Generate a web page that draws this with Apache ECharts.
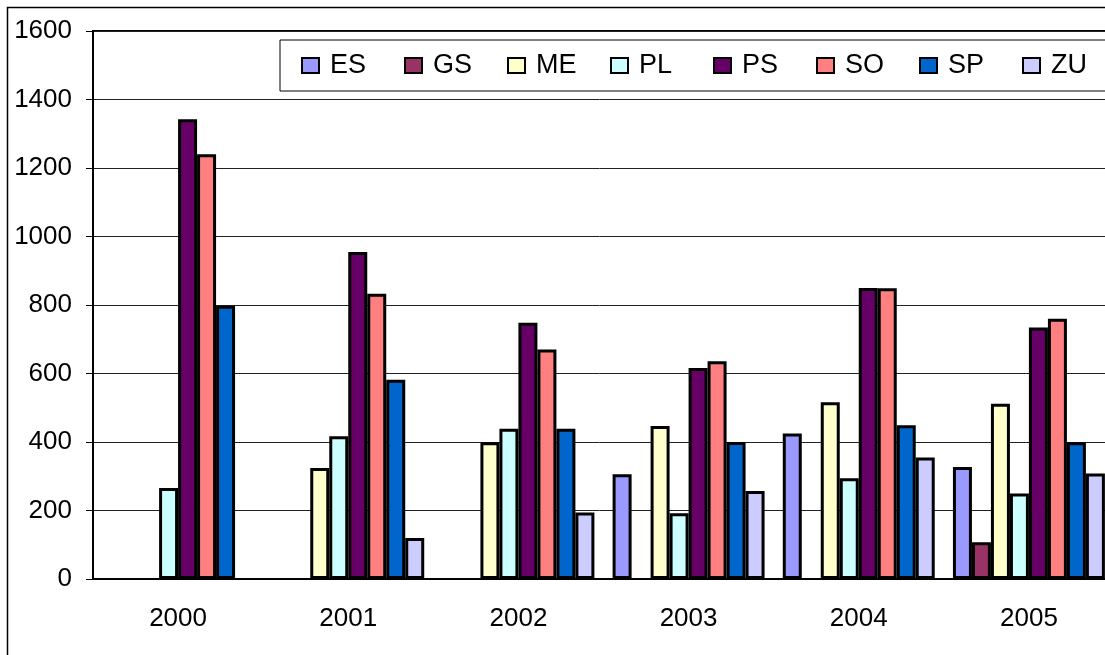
<!DOCTYPE html>
<html>
<head>
<meta charset="utf-8">
<script src="https://cdn.jsdelivr.net/npm/echarts@6/dist/echarts.min.js"></script>
<style>
  html, body { margin: 0; padding: 0; background: #fff; }
  #chart { width: 1105px; height: 655px; }
</style>
</head>
<body>
<div id="chart"></div>
<script>
// years on the x axis
const years = ['2000', '2001', '2002', '2003', '2004', '2005']

// one array per series, null = no bar that year
const ES = [null, null, null, 306, 425, 327]
const GS = [null, null, null, null, null, 107]
const ME = [null, 324, 399, 447, 516, 512]
const PL = [266, 417, 439, 192, 294, 250]
const PS = [1342, 955, 748, 616, 850, 734]
const SO = [1240, 833, 670, 636, 849, 760]
const SP = [798, 582, 439, 400, 449, 399]
const ZU = [null, 120, 194, 257, 355, 308]

const seriesNames = ['ES', 'GS', 'ME', 'PL', 'PS', 'SO', 'SP', 'ZU']
const seriesData = [ES, GS, ME, PL, PS, SO, SP, ZU]
const colors = ['#9999FF', '#993366', '#FFFFCC', '#CCFFFF', '#660066', '#FF8080', '#0066CC', '#CCCCFF']

const font = 'Liberation Sans, Arial, sans-serif'

const chart = echarts.init(document.getElementById('chart'))

chart.setOption({
  animation: false,
  color: colors,
  graphic: [{
    // outer chart frame
    type: 'rect',
    shape: { x: 7.5, y: 7.5, width: 1200, height: 1000 },
    style: { fill: null, stroke: '#000', lineWidth: 1.5 },
    silent: true
  }],
  legend: {
    left: 280,
    top: 40,
    width: 1000,
    padding: [12, 20, 12, 21],
    borderColor: '#000',
    borderWidth: 1,
    backgroundColor: '#fff',
    itemWidth: 17,
    itemHeight: 15,
    itemGap: 27,
    icon: 'rect',
    itemStyle: { borderColor: '#000', borderWidth: 2 },
    textStyle: {
      fontFamily: font,
      fontSize: 27,
      color: '#000',
      width: 47,
      lineHeight: 27,
      padding: [0, 0, 0, 6]
    },
    data: seriesNames
  },
  grid: {
    left: 93,
    top: 31,
    right: -9,
    bottom: 76,
    outerBoundsMode: 'none',
    containLabel: false,
    show: true,
    backgroundColor: '#fff',
    borderColor: '#000',
    borderWidth: 2
  },
  xAxis: {
    type: 'category',
    data: years,
    axisLine: { lineStyle: { color: '#000', width: 2 } },
    axisTick: { length: 7, lineStyle: { color: '#000', width: 1 } },
    axisLabel: { margin: 27, fontFamily: font, fontSize: 26, color: '#000' }
  },
  yAxis: {
    type: 'value',
    min: 0,
    max: 1600,
    interval: 200,
    axisLine: { show: true, lineStyle: { color: '#000', width: 2 } },
    axisTick: { show: true, length: 7, lineStyle: { color: '#000', width: 1 } },
    axisLabel: {
      margin: 21,
      fontFamily: font,
      fontSize: 26,
      color: '#000',
      formatter: v => String(v)
    },
    splitLine: { lineStyle: { color: '#222', width: 1 } }
  },
  series: seriesNames.map((name, i) => ({
    name: name,
    type: 'bar',
    data: seriesData[i],
    barGap: '0%',
    barCategoryGap: '10.7%',
    itemStyle: { borderColor: '#000', borderWidth: 3 }
  }))
})
</script>
</body>
</html>
